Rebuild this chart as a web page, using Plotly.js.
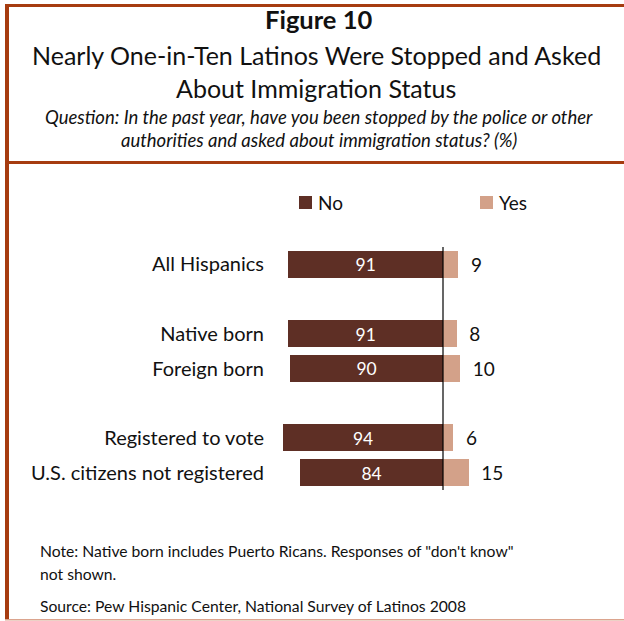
<!DOCTYPE html>
<html>
<head>
<meta charset="utf-8">
<script src="https://cdn.plot.ly/plotly-3.0.1.min.js"></script>
<style>
  html, body { margin: 0; padding: 0; background: #ffffff; }
  #chart { width: 624px; height: 621px; }
</style>
</head>
<body>
<div id="chart"></div>
<script>
// ---- data ----
const categories = ["All Hispanics", "Native born", "Foreign born", "Registered to vote", "U.S. citizens not registered"];
const noValues = [91, 91, 90, 94, 84];
const yesValues = [9, 8, 10, 6, 15];
const seriesNames = ["No", "Yes"];

// ---- layout helpers ----
const W = 624, H = 621;
const px = x => x / W;
const py = y => 1 - y / H;
const rowSlots = [0, 2, 3, 5, 6];   // vertical slots with group gaps
const FONT = "Lato, 'Open Sans', sans-serif";
const noColor = "#5e2f25";
const yesColor = "#d3a189";
const frameColor = "#a63c10";
const ink = "#111111";

const traces = [
  {
    type: "bar", orientation: "h", name: seriesNames[0],
    y: rowSlots, x: noValues.map(v => -v),
    text: noValues.map(String), texttemplate: "%{text}",
    textposition: "inside", insidetextanchor: "middle", textangle: 0,
    textfont: { family: FONT, size: 19, color: "#ffffff" },
    marker: { color: noColor, line: { width: 0 } },
    width: 0.78, showlegend: false, hoverinfo: "skip"
  },
  {
    type: "bar", orientation: "h", name: seriesNames[1],
    y: rowSlots, x: yesValues,
    text: yesValues.map(String), texttemplate: "  %{text}",
    textposition: "outside", textangle: 0,
    textfont: { family: FONT, size: 19, color: ink },
    marker: { color: yesColor, line: { width: 0 } },
    width: 0.78, showlegend: false, hoverinfo: "skip", cliponaxis: false
  }
];

const shapes = [
  // frame: top, left, separator, bottom
  { type: "line", xref: "paper", yref: "paper", x0: px(5), x1: 1, y0: py(5.5), y1: py(5.5), line: { color: frameColor, width: 3 } },
  { type: "line", xref: "paper", yref: "paper", x0: px(7), x1: px(7), y0: py(4), y1: py(620), line: { color: frameColor, width: 4 } },
  { type: "line", xref: "paper", yref: "paper", x0: px(5), x1: 1, y0: py(162.5), y1: py(162.5), line: { color: frameColor, width: 3 } },
  { type: "line", xref: "paper", yref: "paper", x0: px(5), x1: 1, y0: py(619.8), y1: py(619.8), line: { color: "#dba48e", width: 1.5 } },
  // zero line
  { type: "line", xref: "x", yref: "y", x0: 0, x1: 0, y0: -0.5, y1: 6.5, line: { color: "#000000", width: 1.2 } },
  // legend swatches
  { type: "rect", xref: "paper", yref: "paper", x0: px(299), x1: px(312), y0: py(196), y1: py(209), fillcolor: noColor, line: { width: 0 } },
  { type: "rect", xref: "paper", yref: "paper", x0: px(480), x1: px(493), y0: py(196), y1: py(209), fillcolor: yesColor, line: { width: 0 } }
];

const ann = (text, x, y, opts) => Object.assign({
  text, x: px(x), y: py(y), xref: "paper", yref: "paper",
  showarrow: false, xanchor: "center", yanchor: "middle",
  font: { family: FONT, size: 16, color: ink }
}, opts || {});

const annotations = [
  ann("<b>Figure 10</b>", 318, 19, { font: { family: FONT, size: 25.5, color: ink } }),
  ann("Nearly One-in-Ten Latinos Were Stopped and Asked", 316, 55, { font: { family: FONT, size: 25, color: ink } }),
  ann("About Immigration Status", 316, 88, { font: { family: FONT, size: 25, color: ink } }),
  ann("<i>Question: In the past year, have you been stopped by the police or other</i>", 319, 117, { font: { family: FONT, size: 18.5, color: ink } }),
  ann("<i>authorities and asked about immigration status? (%)</i>", 319, 140, { font: { family: FONT, size: 18.5, color: ink } }),
  ann(seriesNames[0], 316, 202.5, { xanchor: "left", font: { family: FONT, size: 19, color: ink } }),
  ann(seriesNames[1], 497, 202.5, { xanchor: "left", font: { family: FONT, size: 19, color: ink } }),
  ann("Note: Native born includes Puerto Ricans. Responses of \"don't know\"", 38, 551, { xanchor: "left", font: { family: FONT, size: 15.7, color: ink } }),
  ann("not shown.", 38, 574, { xanchor: "left", font: { family: FONT, size: 15.7, color: ink } }),
  ann("Source: Pew Hispanic Center, National Survey of Latinos 2008", 38, 606, { xanchor: "left", font: { family: FONT, size: 15.7, color: ink } })
];

const layout = {
  width: W, height: H,
  margin: { l: 0, r: 0, t: 0, b: 0, pad: 0 },
  paper_bgcolor: "#ffffff", plot_bgcolor: "#ffffff",
  barmode: "relative", bargap: 0,
  showlegend: false,
  font: { family: FONT, color: ink },
  xaxis: {
    domain: [px(273), px(494)], range: [-100, 30],
    showgrid: false, zeroline: false, showticklabels: false, ticks: "", showline: false, fixedrange: true
  },
  yaxis: {
    domain: [py(490), py(247)], range: [6.5, -0.5],
    tickvals: rowSlots, ticktext: categories, ticks: "", ticklabelstandoff: 8,
    tickfont: { family: FONT, size: 20, color: ink },
    showgrid: false, zeroline: false, showline: false, fixedrange: true
  },
  shapes, annotations
};

Plotly.newPlot("chart", traces, layout, { displayModeBar: false, staticPlot: true });
</script>
</body>
</html>
